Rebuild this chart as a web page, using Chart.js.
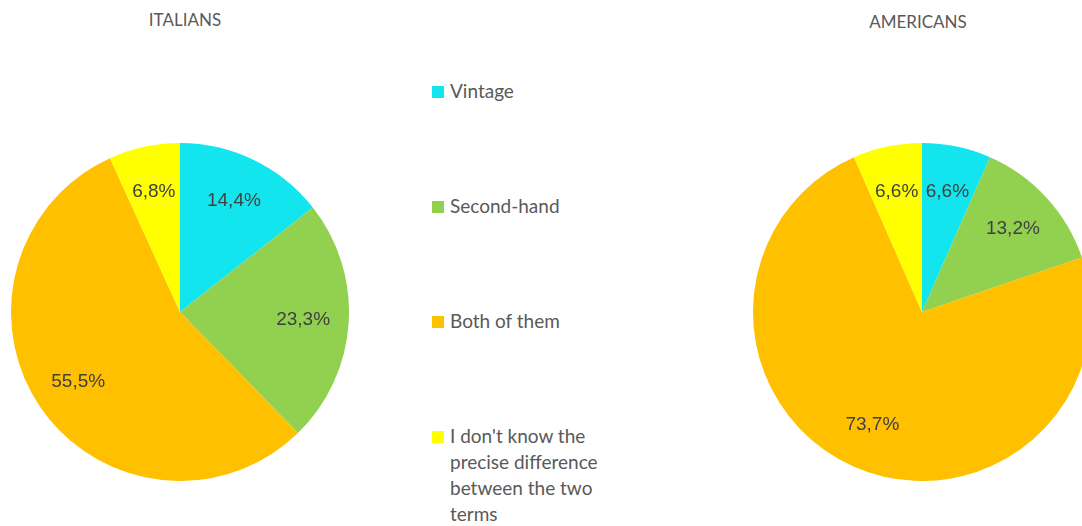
<!DOCTYPE html>
<html>
<head>
<meta charset="UTF-8">
<title>Vintage vs second-hand</title>
<script src="https://cdn.jsdelivr.net/npm/chart.js@4/dist/chart.umd.min.js"></script>
<style>
  html, body { margin: 0; padding: 0; background: #fff; overflow: hidden; }
  body { width: 1082px; height: 526px; position: relative; }
  .title { position: absolute; font-family: Lato, "Open Sans", sans-serif; font-size: 17px; color: #595959; transform: translateX(-50%); white-space: nowrap; }
  .pie { position: absolute; width: 338px; height: 338px; }
  #legend { position: absolute; left: 432px; top: 78px; width: 175px; font-family: Lato, "Open Sans", sans-serif; font-size: 19px; color: #595959; }
  #legend .item { position: absolute; left: 0; padding-left: 18px; line-height: 26px; }
  #legend .box { position: absolute; left: 0; top: 8px; width: 12px; height: 12px; }
</style>
</head>
<body>
<div class="title" style="left:185px; top:9px;">ITALIANS</div>
<div class="title" style="left:918px; top:11px;">AMERICANS</div>
<div class="pie" style="left:11px; top:143px;"><canvas id="italians"></canvas></div>
<div class="pie" style="left:753px; top:143px;"><canvas id="americans"></canvas></div>
<div id="legend"></div>

<script>
const categories = ['Vintage', 'Second-hand', 'Both of them', "I don't know the precise difference between the two terms"]
const italians = [14.4, 23.3, 55.5, 6.8]
const americans = [6.6, 13.2, 73.7, 6.6]
const colors = ['#13E5EF', '#92D050', '#FFC000', '#FFFF00']

// legend rows, spaced like the original
const legendTops = [0, 115, 230, 345]
const legend = document.getElementById('legend')
categories.forEach(function (name, i) {
  const item = document.createElement('div')
  item.className = 'item'
  item.style.top = legendTops[i] + 'px'
  item.style.width = '160px'
  item.innerHTML = '<span class="box" style="background:' + colors[i] + '"></span>' + name
  legend.appendChild(item)
})

// percentage text inside each slice
const sliceLabels = {
  id: 'sliceLabels',
  afterDatasetsDraw(chart) {
    const ctx = chart.ctx
    const data = chart.data.datasets[0].data
    ctx.save()
    ctx.font = '19px "Liberation Sans", Arial, sans-serif'
    ctx.fillStyle = '#404040'
    ctx.textAlign = 'center'
    ctx.textBaseline = 'middle'
    chart.getDatasetMeta(0).data.forEach(function (arc, i) {
      const p = arc.getProps(['x', 'y', 'startAngle', 'endAngle', 'outerRadius'], true)
      const mid = (p.startAngle + p.endAngle) / 2
      const d = p.outerRadius * 0.73
      const txt = data[i].toFixed(1).replace('.', ',') + '%'
      ctx.fillText(txt, p.x + Math.cos(mid) * d, p.y + Math.sin(mid) * d)
    })
    ctx.restore()
  }
}

function makePie(id, values) {
  return new Chart(document.getElementById(id), {
    type: 'pie',
    data: {
      labels: categories,
      datasets: [{ data: values, backgroundColor: colors, borderWidth: 0 }]
    },
    options: {
      responsive: true,
      maintainAspectRatio: false,
      animation: false,
      layout: { padding: 0 },
      plugins: { legend: { display: false }, tooltip: { enabled: false } }
    },
    plugins: [sliceLabels]
  })
}

makePie('italians', italians)
makePie('americans', americans)
</script>
</body>
</html>
